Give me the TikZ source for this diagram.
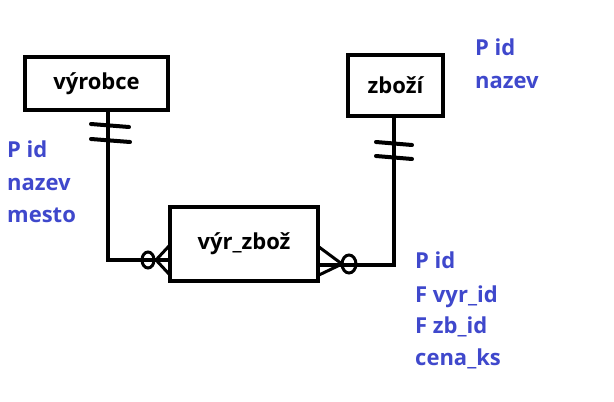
\documentclass[tikz,border=0pt]{standalone}
\usepackage{fontspec}
\setmainfont{Open Sans}
\definecolor{attrblue}{RGB}{63,72,204}
\begin{document}
\begin{tikzpicture}[x=1pt,y=-1pt,
  entity/.style={draw, line width=4.5pt, inner sep=0pt, font=\fontsize{22}{26}\selectfont\bfseries},
  attr/.style={anchor=base west, inner sep=0pt, text=attrblue, font=\fontsize{22}{26}\selectfont\bfseries},
  rel/.style={line width=4pt},
  tick/.style={line width=4pt, line cap=round},
  foot/.style={line width=3pt}]
\useasboundingbox (0,0) rectangle (614,402);
\node[entity, minimum width=143pt, minimum height=53pt] (vyr) at (96.5,83.5) {výrobce};
\node[entity, minimum width=95pt, minimum height=61pt] (zb) at (395.5,85.5) {zboží};
\node[entity, minimum width=148pt, minimum height=74pt] (vz) at (244,244) {výr\_zbož};
% connectors
\coordinate (c1) at (108,260);
\coordinate (c2) at (394,265);
\draw[rel] (vyr.south -| c1) -- (c1) -- (c1 -| vz.west);
\draw[rel] (zb.south -| c2) -- (c2) -- (c2 -| vz.east);
% one marks
\draw[tick] (91,124) -- (129,127);
\draw[tick] (91,139) -- (130,142);
\draw[tick] (376,142) -- (412,145);
\draw[tick] (376,156) -- (412,159);
% many marks (left)
\draw[foot] (148,260) ellipse (6pt and 8pt);
\draw[foot] (156,260) -- (169,246);
\draw[foot] (156,260) -- (169,274);
% many marks (right)
\draw[foot] (349,264) ellipse (7pt and 9pt);
\draw[foot] (342,264) -- (319,247);
\draw[foot] (342,264) -- (319,275);
\draw[foot] (319,264) -- (342,264);
% attributes
\node[attr] (a1) at (7,157) {P id};
\node[attr] (a2) at (7,190) {nazev};
\node[attr] (a3) at (7,222) {mesto};
\node[attr] (b1) at (475,55) {P id};
\node[attr] (b2) at (475,88) {nazev};
\node[attr] (d1) at (415,268) {P id};
\node[attr] (d2) at (415,302) {F vyr\_id};
\node[attr] (d3) at (415,333) {F zb\_id};
\node[attr] (d4) at (415,365) {cena\_ks};
\end{tikzpicture}
\end{document}
